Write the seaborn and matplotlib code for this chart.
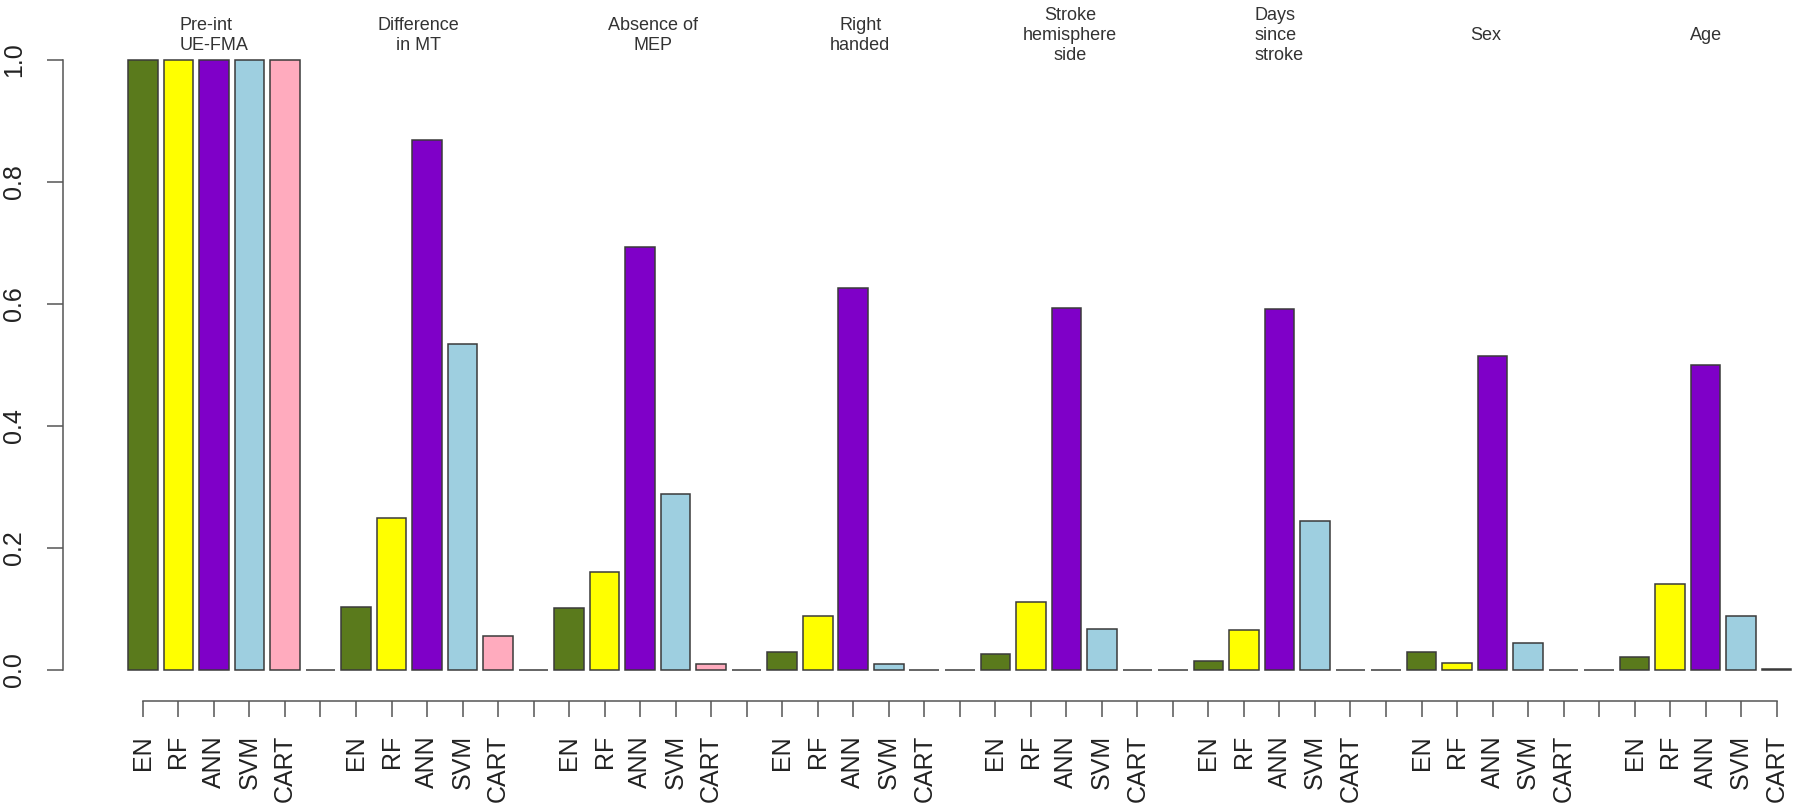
import matplotlib
matplotlib.use("Agg")
import matplotlib.pyplot as plt
import numpy as np
import pandas as pd
import seaborn as sns

# ---- data ----
features = ["Pre-int\nUE-FMA", "Difference\nin MT", "Absence of\nMEP", "Right\nhanded",
            "Stroke\nhemisphere\nside", "Days\nsince\nstroke", "Sex", "Age"]
models = ["EN", "RF", "ANN", "SVM", "CART"]
en_vals = [1.0, 0.104, 0.102, 0.030, 0.027, 0.015, 0.029, 0.022]
rf_vals = [1.0, 0.249, 0.161, 0.089, 0.111, 0.066, 0.012, 0.141]
ann_vals = [1.0, 0.869, 0.694, 0.626, 0.594, 0.592, 0.515, 0.500]
svm_vals = [1.0, 0.534, 0.289, 0.010, 0.067, 0.245, 0.045, 0.089]
cart_vals = [1.0, 0.055, 0.010, 0.0, 0.0, 0.0, 0.0, 0.002]
model_colors = ["#5A7A1C", "#FFFF00", "#7F00C8", "#9ECFE0", "#FFABBE"]
yticks = [0.0, 0.2, 0.4, 0.6, 0.8, 1.0]

# ---- build the long table (one empty separator bar between groups) ----
series = [en_vals, rf_vals, ann_vals, svm_vals, cart_vals]
rows = []
for g in range(len(features)):
    for m, name in enumerate(models):
        rows.append({"label": name, "value": series[m][g], "color": model_colors[m], "group": g})
    if g < len(features) - 1:
        rows.append({"label": "", "value": 0.0, "color": "#FFFFFF", "group": g})
df = pd.DataFrame(rows)
df["pos"] = np.arange(len(df))
palette = dict(zip(df["pos"], df["color"]))

sns.set_theme(style="ticks")
plt.rcParams["font.family"] = ["Liberation Sans", "DejaVu Sans"]

fig = plt.figure(figsize=(18, 8.11), dpi=100)
ax = fig.add_axes([63 / 1800, 110 / 811, 1735 / 1800, 695.9 / 811])

sns.barplot(data=df, x="pos", y="value", hue="pos", palette=palette, order=list(df["pos"]),
            hue_order=list(df["pos"]), dodge=False, legend=False, width=0.833,
            edgecolor="#3a3a3a", linewidth=1.1, saturation=1, ax=ax)

n = len(df)
ax.set_xlim(-2.25, n - 1 + 0.6)
ax.set_ylim(-0.0508, 1.09)

for s in ["top", "right"]:
    ax.spines[s].set_visible(False)
for s in ["left", "bottom"]:
    ax.spines[s].set_visible(True)
    ax.spines[s].set_color("#555555")
    ax.spines[s].set_linewidth(1.1)
ax.spines["left"].set_bounds(0, 1)
ax.spines["bottom"].set_bounds(0, n - 1)

ax.set_yticks(yticks)
ax.set_yticklabels([f"{v:.1f}" for v in yticks], rotation=90, va="center")
ax.set_xticks(list(df["pos"]))
ax.set_xticklabels(list(df["label"]), rotation=90, va="top", ha="center")
ax.tick_params(axis="both", direction="out", length=11.5, width=1.1, color="#555555",
               labelsize=18, labelcolor="#222222", bottom=True, left=True)
ax.tick_params(axis="x", pad=13)
ax.tick_params(axis="y", pad=15)
ax.set_xlabel("")
ax.set_ylabel("")
ax.grid(False)

# group titles above the ANN bar of each group
title_offsets = [0.0, -0.25, 0.35, 0.2, 0.1, 0.0, -0.2, 0.0]
title_align = ["left", "center", "center", "center", "center", "left", "center", "center"]
for g, feat in enumerate(features):
    ann_pos = df[(df["group"] == g) & (df["label"] == "ANN")]["pos"].iloc[0]
    ax.text(ann_pos + title_offsets[g], 1.04, feat, ha="center", va="center",
            multialignment=title_align[g], fontsize=13, color="#333333",
            linespacing=1.25, clip_on=False)

fig.savefig("out.png", dpi=100, facecolor="white")
